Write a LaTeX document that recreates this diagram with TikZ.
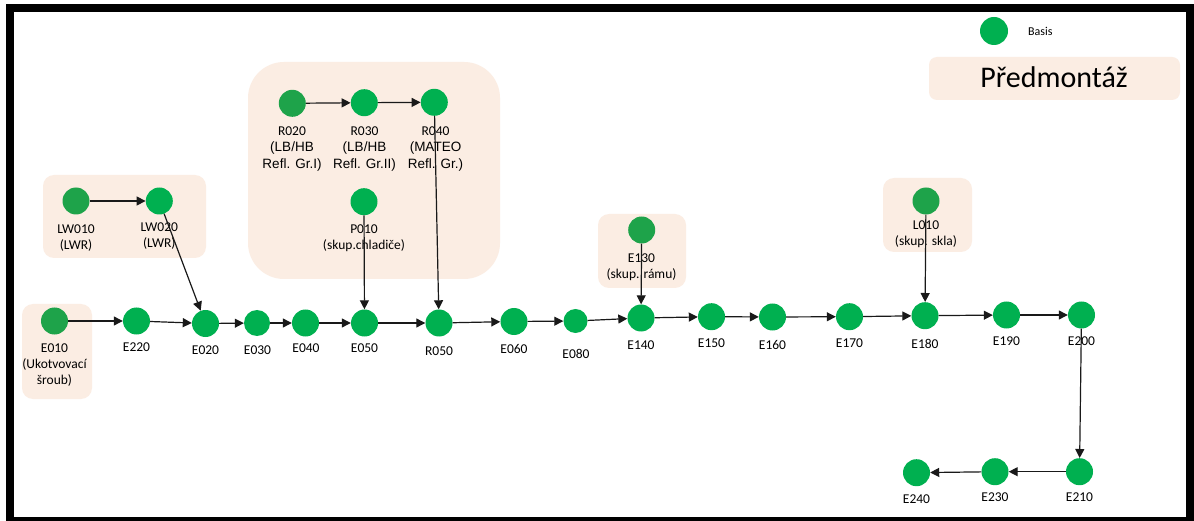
\documentclass[tikz,border=0pt]{standalone}
\usepackage{fontspec}
\setmainfont{Carlito}
\newfontfamily\arialfont{Liberation Sans}
\usetikzlibrary{arrows.meta}
\definecolor{opgreen}{HTML}{00B050}
\definecolor{opgreendark}{HTML}{1EA34A}
\definecolor{groupfill}{HTML}{FBEDE3}
\tikzset{
  op/.style={circle, fill=opgreen, minimum size=27pt, inner sep=0pt},
  opdark/.style={op, fill=opgreendark},
  lbl/.style={font=\fontsize{13.5}{16.3}\selectfont, align=center, anchor=north, inner sep=0pt},
  flow/.style={line width=1.2pt, draw=black!90, -{Triangle[length=9pt,width=9pt]}},
  grp/.style={fill=groupfill, rounded corners=11pt},
}
\begin{document}
\begin{tikzpicture}[x=1pt,y=-1pt]
\useasboundingbox (0,0) rectangle (1194,521);
\fill[white] (0,0) rectangle (1194,521);
\draw[line width=8pt] (10,8) rectangle (1190,521);

% sub-assembly groups
\fill[grp] (43,175) rectangle (206,258);
\fill[grp] (22,304) rectangle (92,399);
\fill[grp, rounded corners=36pt] (248,62) rectangle (500,279);
\fill[grp] (598,214) rectangle (686,288);
\fill[grp] (883,178) rectangle (972,252);
\fill[grp, rounded corners=8pt] (929,57) rectangle (1180,100);

% legend
\node[op, minimum size=28pt] (legend) at (994,31) {};
\node[font=\fontsize{12}{14}\selectfont, anchor=west, inner sep=0pt] (legendtext) at (1028,31) {Basis};
\node[font=\fontsize{30}{34}\selectfont, anchor=base, inner sep=0pt] (pm) at (1054,88) {Předmontáž};

% main line
\node[opdark] (E010) at (54.5,321) {};
\node[op] (E220) at (136.5,321) {};
\node[op] (E020) at (205.5,323.5) {};
\node[op, minimum size=26pt] (E030) at (257,323) {};
\node[op] (E040) at (305.5,323) {};
\node[op] (E050) at (364.5,323) {};
\node[op] (R050) at (439,323) {};
\node[op] (E060) at (514,321.5) {};
\node[op, minimum size=24pt] (E080) at (575.5,321) {};
\node[op] (E140) at (641,318) {};
\node[op] (E150) at (711.5,316.7) {};
\node[op] (E160) at (772.5,317) {};
\node[op] (E170) at (849.5,316.7) {};
\node[op] (E180) at (925,315.7) {};
\node[op] (E190) at (1006.5,315) {};
\node[op] (E200) at (1081.5,315) {};
\node[op] (E210) at (1079.5,471.7) {};
\node[op] (E230) at (995,471.7) {};
\node[op] (E240) at (916.5,472.7) {};

% feeding operations
\node[opdark] (LW010) at (76,201) {};
\node[op] (LW020) at (159.3,201) {};
\node[opdark] (R020) at (292.3,103.3) {};
\node[op] (R030) at (364.3,102.7) {};
\node[op] (R040) at (434.3,102.3) {};
\node[op] (P010) at (364,201.7) {};
\node[opdark] (E130) at (641.7,230) {};
\node[opdark] (L010) at (926,201) {};

% labels
\node[lbl] (tE010) at (54.5,343.2) {E010\\(Ukotvovací\\šroub)};
\node[lbl] (tE220) at (136.5,343) {E220};
\node[lbl] (tE020) at (205.5,345.4) {E020};
\node[lbl] (tE030) at (257.5,345.7) {E030};
\node[lbl] (tE040) at (306,343.7) {E040};
\node[lbl] (tE050) at (364.5,343.7) {E050};
\node[lbl] (tR050) at (439,346.7) {R050};
\node[lbl] (tE060) at (514,343.7) {E060};
\node[lbl] (tE080) at (576,348.7) {E080};
\node[lbl] (tE140) at (641,340.7) {E140};
\node[lbl] (tE150) at (711.5,338.7) {E150};
\node[lbl] (tE160) at (772.5,339.7) {E160};
\node[lbl] (tE170) at (849.5,338.7) {E170};
\node[lbl] (tE180) at (925,338.7) {E180};
\node[lbl] (tE190) at (1006.5,336.7) {E190};
\node[lbl] (tE200) at (1081.5,336.7) {E200};
\node[lbl] (tE210) at (1079.5,492.7) {E210};
\node[lbl] (tE230) at (995,492.7) {E230};
\node[lbl] (tE240) at (916.5,494.7) {E240};
\node[lbl] (tLW010) at (76,224.7) {LW010\\(LWR)};
\node[lbl] (tLW020) at (159.3,222.7) {LW020\\(LWR)};
\node[lbl] (tR020) at (292,126.7) {R020\\{\arialfont (LB/HB}\\{\arialfont Refl. Gr.I)}};
\node[lbl] (tR030) at (364.5,126.7) {R030\\{\arialfont (LB/HB}\\{\arialfont Refl. Gr.II)}};
\node[lbl] (tR040) at (435.5,126.7) {R040\\{\arialfont (MATEO}\\{\arialfont Refl. Gr.)}};
\node[lbl] (tP010) at (364,224.7) {P010\\(skup.chladiče)};
\node[lbl] (tE130) at (641.5,253.7) {E130\\(skup. rámu)};
\node[lbl] (tL010) at (926,220.7) {L010\\(skup. skla)};

% connectors
\draw[flow] (E010) -- (E220);
\draw[flow] (E220) -- (E020);
\draw[flow] (E020) -- (E030);
\draw[flow] (E030) -- (E040);
\draw[flow] (E040) -- (E050);
\draw[flow] (E050) -- (R050);
\draw[flow] (R050) -- (E060);
\draw[flow] (E060) -- (E080);
\draw[flow] (E080) -- (E140);
\draw[flow] (E140) -- (E150);
\draw[flow] (E150) -- (E160);
\draw[flow] (E160) -- (E170);
\draw[flow] (E170) -- (E180);
\draw[flow] (E180) -- (E190);
\draw[flow] (E190) -- (E200);
\draw[flow] (E200) -- (E210);
\draw[flow] (E210) -- (E230);
\draw[flow] (E230) -- (E240);
\draw[flow] (LW010) -- (LW020);
\draw[flow] (LW020) -- (E020);
\draw[flow] (R020) -- (R030);
\draw[flow] (R030) -- (R040);
\draw[flow] (R040) -- (R050);
\draw[flow] (P010) -- (E050);
\draw[flow] (E130) -- (E140);
\draw[flow] (L010) -- (E180);
\end{tikzpicture}
\end{document}
